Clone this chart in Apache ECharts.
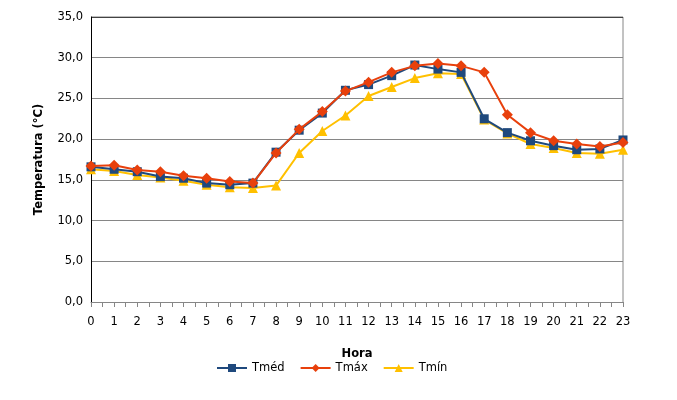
<!DOCTYPE html>
<html>
<head>
<meta charset="utf-8">
<script src="https://cdn.jsdelivr.net/npm/echarts@6/dist/echarts.min.js"></script>
<style>
  html, body { margin: 0; padding: 0; background: #fff; }
  #chart { width: 677px; height: 400px; }
</style>
</head>
<body>
<div id="chart"></div>
<script>
const hours = [0, 1, 2, 3, 4, 5, 6, 7, 8, 9, 10, 11, 12, 13, 14, 15, 16, 17, 18, 19, 20, 21, 22, 23];
const tmed = [16.6, 16.3, 16.0, 15.4, 15.2, 14.6, 14.4, 14.6, 18.4, 21.1, 23.2, 26.0, 26.7, 27.8, 29.1, 28.6, 28.2, 22.5, 20.8, 19.8, 19.2, 18.7, 18.8, 19.9];
const tmax = [16.7, 16.8, 16.2, 16.0, 15.5, 15.2, 14.8, 14.6, 18.3, 21.2, 23.4, 25.9, 27.0, 28.2, 29.0, 29.3, 29.0, 28.2, 23.0, 20.8, 19.8, 19.4, 19.1, 19.6];
const tmin = [16.3, 16.1, 15.6, 15.3, 14.9, 14.4, 14.1, 14.0, 14.3, 18.3, 21.0, 22.9, 25.3, 26.4, 27.5, 28.1, 28.0, 22.4, 20.7, 19.4, 18.9, 18.3, 18.2, 18.7];

const font = 'DejaVu Sans';
const pairs = vals => hours.map((h, i) => [h, vals[i]]);

const chart = echarts.init(document.getElementById('chart'));
chart.setOption({
    animation: false,
    textStyle: { fontFamily: font },
    grid: { left: 91, right: 54, top: 17, bottom: 98 },
    legend: {
        bottom: 21,
        left: 211,
        itemWidth: 30,
        itemHeight: 10,
        itemGap: 15,
        textStyle: { fontFamily: font, fontSize: 11.5, color: '#000' },
        data: ['Tméd', 'Tmáx', 'Tmín']
    },
    xAxis: {
        type: 'value',
        min: 0,
        max: 23,
        interval: 1,
        name: 'Hora',
        nameLocation: 'middle',
        nameGap: 46,
        nameTextStyle: { fontFamily: font, fontWeight: 'bold', fontSize: 11.5, color: '#000' },
        axisLine: { lineStyle: { color: '#868686', width: 1 } },
        axisTick: { length: 5, lineStyle: { color: '#868686' } },
        minorTick: { show: true, splitNumber: 2, length: 5, lineStyle: { color: '#868686' } },
        axisLabel: { fontFamily: font, fontSize: 11.5, color: '#000', margin: 14 },
        splitLine: { show: false }
    },
    yAxis: {
        type: 'value',
        min: 0,
        max: 35,
        interval: 5,
        name: 'Temperatura (°C)',
        nameLocation: 'middle',
        nameGap: 46,
        nameTextStyle: { fontFamily: font, fontWeight: 'bold', fontSize: 11.5, color: '#000' },
        axisLine: { show: true, lineStyle: { color: '#000', width: 1 } },
        axisTick: { show: false },
        axisLabel: {
            fontFamily: font, fontSize: 11.5, color: '#000', margin: 8,
            formatter: v => v.toFixed(1).replace('.', ',')
        },
        splitLine: { lineStyle: { color: '#868686', width: 1 } }
    },
    series: [
        {
            name: 'border-right',
            type: 'line',
            silent: true,
            data: [[23, 0], [23, 35]],
            symbol: 'none',
            lineStyle: { color: '#868686', width: 1 },
            z: 0
        },
        {
            name: 'border-top',
            type: 'line',
            silent: true,
            data: [[0, 35], [23, 35]],
            symbol: 'none',
            lineStyle: { color: '#000', width: 1 },
            z: 0
        },
        {
            name: 'Tméd',
            type: 'line',
            data: pairs(tmed),
            symbol: 'rect',
            symbolSize: 9,
            itemStyle: { color: '#1F497D' },
            lineStyle: { color: '#1F497D', width: 2 },
            z: 3
        },
        {
            name: 'Tmáx',
            type: 'line',
            data: pairs(tmax),
            symbol: 'diamond',
            symbolSize: 11,
            itemStyle: { color: '#E8400C' },
            lineStyle: { color: '#E8400C', width: 2 },
            z: 4
        },
        {
            name: 'Tmín',
            type: 'line',
            data: pairs(tmin),
            symbol: 'triangle',
            symbolSize: 10,
            itemStyle: { color: '#FFC000' },
            lineStyle: { color: '#FFC000', width: 2 },
            z: 2
        }
    ]
});
</script>
</body>
</html>
